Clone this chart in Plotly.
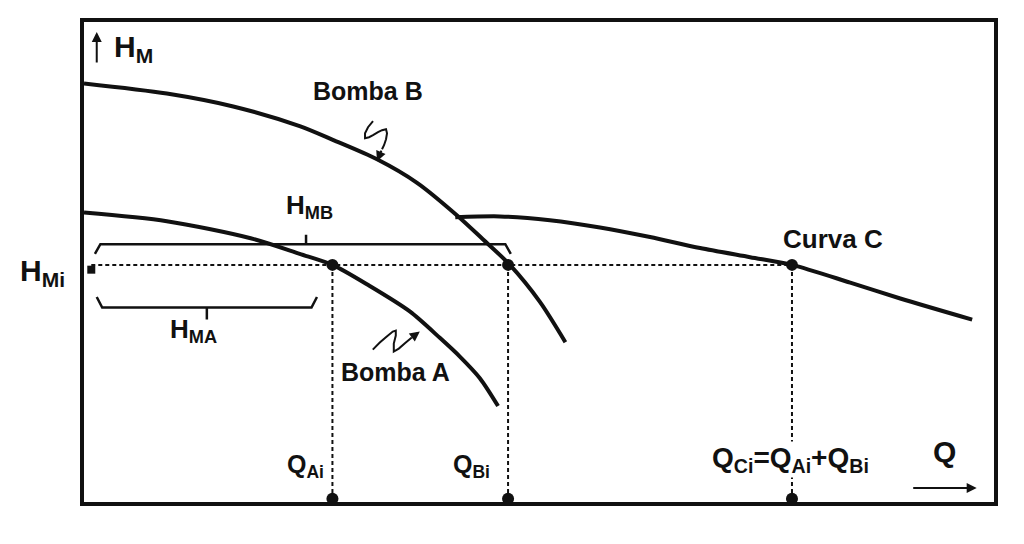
import plotly.graph_objects as go

# ---------------- data (arbitrary units) ----------------
Q_B = [0.00, 0.91, 1.64, 2.37, 2.74, 3.22, 3.66, 4.10, 4.38, 4.68, 5.01, 5.29]
H_B = [8.72, 8.51, 8.24, 7.83, 7.54, 7.14, 6.65, 5.97, 5.48, 4.94, 4.17, 3.33]

Q_A = [0.00, 0.91, 1.82, 2.37, 2.73, 3.14, 3.58, 3.91, 4.13, 4.35, 4.55]
H_A = [6.03, 5.85, 5.50, 5.17, 4.94, 4.50, 3.97, 3.42, 3.03, 2.58, 2.00]

Q_C = [4.08, 4.57, 5.12, 5.67, 6.22, 6.77, 7.32, 7.78, 8.42, 8.97, 9.76]
H_C = [5.93, 5.95, 5.87, 5.72, 5.52, 5.29, 5.10, 4.94, 4.57, 4.24, 3.80]

H_MI = 4.94                       # common head H_Mi
Q_AI, Q_BI, Q_CI = 2.73, 4.66, 7.78   # operating flows
Q_MIN, Q_MAX = 0.0, 10.0
H_MIN, H_MAX = 0.0, 10.0

# braces (start, end, middle, level)
BRACE_MB = (0.12, 4.69, 2.44, 5.37)
BRACE_MA = (0.14, 2.56, 1.35, 4.05)

FONT = "Liberation Sans, Arial, sans-serif"
BLACK = "#111111"

fig = go.Figure()

# guide (dotted) lines
gx = [0.08, Q_CI, None, Q_AI, Q_AI, None, Q_BI, Q_BI, None, Q_CI, Q_CI]
gy = [H_MI, H_MI, None, H_MI, 0.05, None, H_MI, 0.05, None, H_MI, 0.05]
fig.add_trace(go.Scatter(x=gx, y=gy, mode="lines",
                         line=dict(color=BLACK, width=2, dash="4px,3px"),
                         hoverinfo="skip"))

# pump curves
for qx, hy in ((Q_B, H_B), (Q_A, H_A), (Q_C, H_C)):
    fig.add_trace(go.Scatter(x=qx, y=hy, mode="lines",
                             line=dict(color=BLACK, width=4, shape="spline", smoothing=0.8),
                             hoverinfo="skip"))

# braces
def brace(b, drop, tick):
    x0, x1, xm, lv = b
    e = 0.06
    return ([x0, x0 + e, xm - e, xm, xm, xm, xm + e, x1 - e, x1],
            [lv + drop, lv, lv, lv, lv + tick, lv, lv, lv, lv + drop])

for bx, by in (brace(BRACE_MB, -0.2, 0.2), brace(BRACE_MA, 0.22, -0.25)):
    fig.add_trace(go.Scatter(x=bx, y=by, mode="lines",
                             line=dict(color=BLACK, width=2.5), hoverinfo="skip"))

# points
fig.add_trace(go.Scatter(x=[Q_AI, Q_BI, Q_CI, Q_AI, Q_BI, Q_CI],
                         y=[H_MI, H_MI, H_MI, 0.07, 0.07, 0.07],
                         mode="markers", marker=dict(color=BLACK, size=12),
                         hoverinfo="skip"))
fig.add_trace(go.Scatter(x=[0.08], y=[H_MI - 0.1], mode="markers",
                         marker=dict(color=BLACK, size=8, symbol="square"),
                         hoverinfo="skip"))

ann = []
def txt(x, y, s, size=26, xref="x", yref="y", bg=None):
    d = dict(x=x, y=y, xref=xref, yref=yref, text="<b>" + s + "</b>",
             showarrow=False, xanchor="center", yanchor="middle",
             font=dict(family=FONT, size=size, color=BLACK))
    if bg:
        d["bgcolor"] = bg
        d["borderpad"] = 0
    ann.append(d)

txt(0.54, 9.44, "H<sub>M</sub>", 30)
txt(3.12, 8.57, "Bomba B", 25)
txt(3.42, 2.70, "Bomba A", 25)
txt(8.23, 5.47, "Curva C", 26)
txt(2.48, 6.15, "H<sub>MB</sub>", 26)
txt(1.20, 3.58, "H<sub>MA</sub>", 26)
txt(-0.046, 0.479, "H<sub>Mi</sub>", 30, xref="paper", yref="paper")
txt(2.43, 0.76, "Q<sub>Ai</sub>", 25)
txt(4.26, 0.76, "Q<sub>Bi</sub>", 25)
txt(7.76, 0.89, "Q<sub>Ci</sub>=Q<sub>Ai</sub>+Q<sub>Bi</sub>", 28, bg="white")
txt(9.46, 1.05, "Q", 30)

# arrows
def arrow(x, y, ax, ay, size=1.0):
    ann.append(dict(x=x, y=y, xref="x", yref="y", ax=ax, ay=ay, text="",
                    showarrow=True, arrowhead=2, arrowsize=size, arrowwidth=2,
                    arrowcolor=BLACK))

arrow(0.14, 9.79, 0, 32)          # H_M axis arrow
arrow(9.81, 0.29, -65, 0)         # Q axis arrow
QB_ANCH, HB_ANCH = Q_B[5], H_B[5] - 0.04
QA_ANCH, HA_ANCH = 3.69, 3.55
arrow(QB_ANCH, HB_ANCH, 5, -12)
arrow(QA_ANCH, HA_ANCH, -8, 6)

shapes = [
    dict(type="path", xref="x", yref="y", xsizemode="pixel", ysizemode="pixel",
         xanchor=QB_ANCH, yanchor=HB_ANCH,
         path="M -4,40 L -9,34 L -12,28 L -12,23 L -8,24 L -4,26 L 1,29 L 5,31 L 9,32 L 10,28 L 9,22 L 7,16 L 5,12",
         line=dict(color=BLACK, width=2)),
    dict(type="path", xref="x", yref="y", xsizemode="pixel", ysizemode="pixel",
         xanchor=QA_ANCH, yanchor=HA_ANCH,
         path="M -47,-18 L -40,-11 L -33,-5 L -27,0 L -24,1 L -24,-4 L -26,-12 L -26,-20 L -21,-17 L -14,-11 L -8,-6",
         line=dict(color=BLACK, width=2)),
]

ax_style = dict(showgrid=False, zeroline=False, showticklabels=False, ticks="",
                showline=True, mirror=True, linecolor=BLACK, linewidth=4)

fig.update_layout(
    width=1024, height=544, autosize=False,
    margin=dict(l=76, r=38, t=10, b=50, pad=0),
    paper_bgcolor="white", plot_bgcolor="white",
    showlegend=False,
    xaxis=dict(range=[Q_MIN, Q_MAX], **ax_style),
    yaxis=dict(range=[H_MIN, H_MAX], **ax_style),
    annotations=ann, shapes=shapes,
)

fig.write_html("out.html")
